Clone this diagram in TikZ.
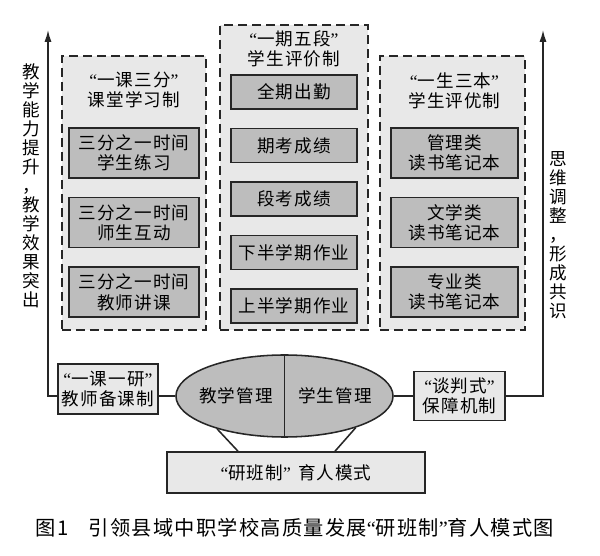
\documentclass[tikz,border=0pt]{standalone}
\usepackage{fontspec}
\setmainfont[LetterSpace=6]{Noto Sans CJK SC}
\newfontfamily\quotefont{Liberation Serif}
\newcommand{\lqt}{{\quotefont “}}
\newcommand{\rqt}{{\quotefont ”}}
\usepackage{tikz}
\usetikzlibrary{shapes.geometric, arrows.meta, positioning}
\usepackage{xcolor}
\definecolor{panelgray}{gray}{0.91}
\definecolor{boxgray}{gray}{0.74}

\begin{document}
\begin{tikzpicture}[
    x=0.025cm, y=-0.025cm,
    node distance=0.45cm,
    every node/.style={font=\fontsize{12.5}{14.5}\selectfont},
    panel/.style={
        rectangle,
        draw=black!85,
        line width=1.2pt,
        dash pattern=on 0.22cm off 0.13cm,
        fill=panelgray,
        inner sep=0pt
    },
    title/.style={
        align=center
    },
    item/.style={
        rectangle,
        draw=black!85,
        line width=1.1pt,
        fill=boxgray,
        align=center,
        inner sep=1pt
    },
    itemtall/.style={
        item,
        minimum width=3.25cm,
        minimum height=1.25cm
    },
    itemflat/.style={
        item,
        minimum width=3.15cm,
        minimum height=0.85cm
    },
    plain/.style={
        rectangle,
        draw=black!85,
        line width=1.1pt,
        fill=panelgray,
        align=center,
        inner sep=1pt
    },
    vtext/.style={
        align=center,
        font=\fontsize{12.5}{13.5}\selectfont
    },
    link/.style={
        line width=1.1pt,
        draw=black!85
    },
    arrow/.style={
        -{Latex[length=3mm, width=1.8mm]},
        line width=1.1pt,
        draw=black!85
    }
]

\useasboundingbox (0,0) rectangle (600,556);

\node[panel, minimum width=3.6cm, minimum height=6.85cm] (ykpanel) at (134,193) {};
\node[panel, minimum width=3.7cm, minimum height=7.625cm] (yqpanel) at (294,177.5) {};
\node[panel, minimum width=3.625cm, minimum height=6.85cm] (yspanel) at (452.5,193) {};

\node[title] (yktitle) at (134,90) {\lqt 一课三分\rqt\\课堂学习制};
\node[title] (yqtitle) at (294,49) {\lqt 一期五段\rqt\\学生评价制};
\node[title] (ystitle) at (454.5,91) {\lqt 一生三本\rqt\\学生评优制};

\node[itemtall] (lianxi) at (134,153) {三分之一时间\\学生练习};
\node[itemtall, below=of lianxi] (hudong) {三分之一时间\\师生互动};
\node[itemtall, below=of hudong] (jiangke) {三分之一时间\\教师讲课};

\node[itemflat] (chuqin) at (294,92) {全期出勤};
\node[itemflat, below=of chuqin] (qikao) {期考成绩};
\node[itemflat, below=of qikao] (duankao) {段考成绩};
\node[itemflat, below=of duankao] (xiazuoye) {下半学期作业};
\node[itemflat, below=of xiazuoye] (shangzuoye) {上半学期作业};

\node[itemtall, minimum width=3.175cm] (guanlilei) at (454.5,153) {管理类\\读书笔记本};
\node[itemtall, minimum width=3.175cm, below=of guanlilei] (wenxue) {文学类\\读书笔记本};
\node[itemtall, minimum width=3.175cm, below=of wenxue] (zhuanye) {专业类\\读书笔记本};

\node[ellipse, draw=black!85, line width=1.1pt, fill=boxgray, inner sep=0pt,
      minimum width=5.425cm, minimum height=2.05cm] (guanli) at (284.5,396) {};
\draw[link] (guanli.north) -- (guanli.south);
\node (jxgl) at (236,396) {教学管理};
\node (xsgl) at (335,396) {学生管理};

\node[plain, minimum width=2.5cm, minimum height=1.25cm] (beike) at (108,389) {\lqt 一课一研\rqt\\教师备课制};
\node[plain, minimum width=2.275cm, minimum height=1.225cm] (baozhang) at (459.5,396) {\lqt 谈判式\rqt\\保障机制};
\node[plain, minimum width=6.45cm, minimum height=1.025cm] (moshi) at (296,472.5) {\lqt 研班制\rqt\hspace{0.4em}育人模式};

\coordinate (zuoding) at (48,30);
\coordinate (youding) at (543,30);

\node[vtext] (zuozi) at (31,186) {教\\学\\能\\力\\提\\升\\，\\教\\学\\效\\果\\突\\出};
\node[vtext] (youzi) at (558,235) {思\\维\\调\\整\\，\\形\\成\\共\\识};

\draw[link] (beike.east |- guanli.west) -- (guanli.west);
\draw[arrow] (beike.west |- guanli.west) -| (zuoding);
\draw[link] (guanli.east) -- (baozhang.west);
\draw[arrow] (baozhang.east) -| (youding);
\draw[link] (guanli.206) -- ([xshift=-1.45cm]moshi.north);
\draw[link] (guanli.336) -- ([xshift=0.975cm]moshi.north);

\node[font=\fontsize{14.4}{16}\selectfont] (tuming) at (295,528) {图1\quad 引领县域中职学校高质量发展\lqt 研班制\rqt 育人模式图};

\end{tikzpicture}
\end{document}
